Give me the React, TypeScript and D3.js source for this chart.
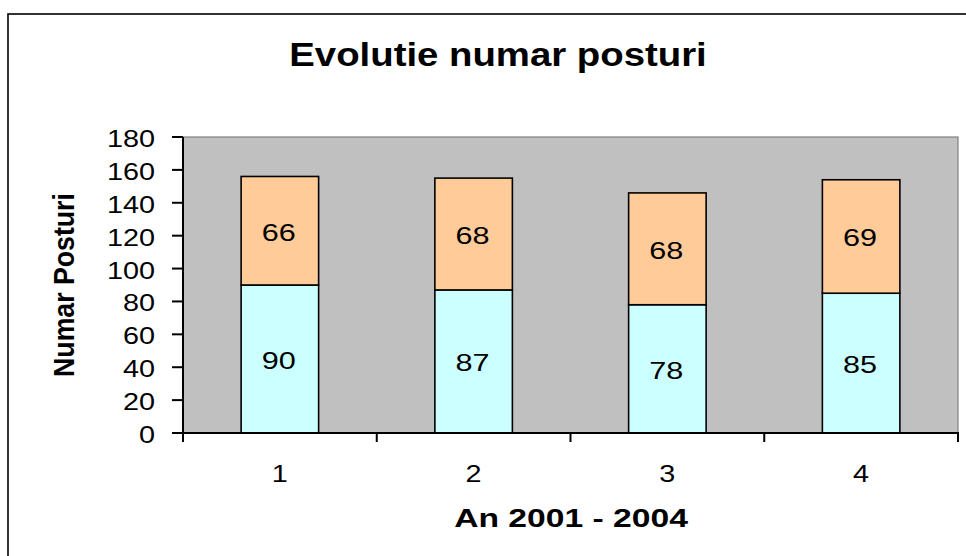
import React from 'react';
import * as d3 from 'd3';

const categories = ['1', '2', '3', '4'];
const lowerValues = [90, 87, 78, 85];
const upperValues = [66, 68, 68, 69];
const yTicks = [0, 20, 40, 60, 80, 100, 120, 140, 160, 180];

const W = 966;
const H = 556;
const font = '"Liberation Sans", Arial, sans-serif';

// the original picture has its text stretched sideways, so each label gets an x scale
type StretchTextProps = {
  x: number;
  y: number;
  sx: number;
  size: number;
  anchor?: 'start' | 'middle' | 'end';
  bold?: boolean;
  children: React.ReactNode;
};

const StretchText = ({
  x, y, sx, size, anchor = 'middle', bold = false, children,
}: StretchTextProps) => (
  <text
    transform={`translate(${x}, ${y}) scale(${sx}, 1)`}
    textAnchor={anchor}
    fontSize={size}
    fontWeight={bold ? 'bold' : 'normal'}
  >
    {children}
  </text>
);

const App = () => {
  const plot = { left: 183, right: 958, top: 137, bottom: 433 };

  const xScale = d3.scaleBand()
    .domain(categories)
    .range([plot.left, plot.right])
    .paddingInner(0.6)
    .paddingOuter(0.3);

  const yScale = d3.scaleLinear()
    .domain([0, 180])
    .range([plot.bottom, plot.top]);

  const stacked = d3.stack<number>()
    .keys(['lower', 'upper'])
    .value((i, key) => (key === 'lower' ? lowerValues[i] : upperValues[i]))(
      d3.range(categories.length),
    );
  const fills = ['#CCFFFF', '#FFCC99'];

  const step = (plot.right - plot.left) / categories.length;
  const boundaries = d3.range(categories.length + 1).map((i) => plot.left + i * step);

  return (
    <svg width={W} height={H} style={{ position: 'absolute', left: 0, top: 0 }} fontFamily={font}>
      <rect x={0} y={0} width={W} height={H} fill="#fff" />
      {/* outer chart frame */}
      <rect x={8} y={14} width={W + 20} height={H + 20} fill="none" stroke="#000" strokeWidth={1.6} />

      <StretchText x={498} y={66} sx={1.18} size={32.5} bold>
        Evolutie numar posturi
      </StretchText>

      {/* plot area */}
      <rect
        x={plot.left}
        y={plot.top}
        width={plot.right - plot.left}
        height={plot.bottom - plot.top}
        fill="#C0C0C0"
        stroke="#808080"
        strokeWidth={1.2}
      />

      {stacked.map((layer, li) => layer.map((d, i) => {
        const x = xScale(categories[i]) as number;
        const y0 = yScale(d[0]);
        const y1 = yScale(d[1]);
        const value = d[1] - d[0];
        return (
          <g key={`${li}-${i}`}>
            <rect
              x={x}
              y={y1}
              width={xScale.bandwidth()}
              height={y0 - y1}
              fill={fills[li]}
              stroke="#000"
              strokeWidth={1.6}
            />
            <StretchText
              x={x + xScale.bandwidth() / 2 - 1}
              y={(y0 + y1) / 2 + 10}
              sx={1.24}
              size={24.7}
            >
              {value}
            </StretchText>
          </g>
        );
      }))}

      {/* y axis */}
      <line x1={plot.left} x2={plot.left} y1={plot.top} y2={plot.bottom + 9} stroke="#000" strokeWidth={2} />
      {yTicks.map((t) => (
        <g key={t}>
          <line x1={plot.left - 11} x2={plot.left} y1={yScale(t)} y2={yScale(t)} stroke="#000" strokeWidth={2} />
          <StretchText x={155} y={yScale(t) + 10} sx={1.2} size={24} anchor="end">{t}</StretchText>
        </g>
      ))}

      {/* x axis */}
      <line x1={plot.left} x2={plot.right + 1} y1={plot.bottom} y2={plot.bottom} stroke="#000" strokeWidth={2} />
      {boundaries.map((b) => (
        <line key={b} x1={b} x2={b} y1={plot.bottom} y2={plot.bottom + 9} stroke="#000" strokeWidth={2} />
      ))}
      {categories.map((c) => (
        <StretchText
          key={c}
          x={(xScale(c) as number) + xScale.bandwidth() / 2}
          y={482}
          sx={1.2}
          size={24}
        >
          {c}
        </StretchText>
      ))}

      <StretchText x={571} y={527} sx={1.27} size={26.5} bold>An 2001 - 2004</StretchText>
      <text
        transform="translate(73.5, 285) rotate(-90) scale(1, 1.13)"
        textAnchor="middle"
        fontSize={26.7}
        fontWeight="bold"
      >
        Numar Posturi
      </text>
    </svg>
  );
};

export default App;
